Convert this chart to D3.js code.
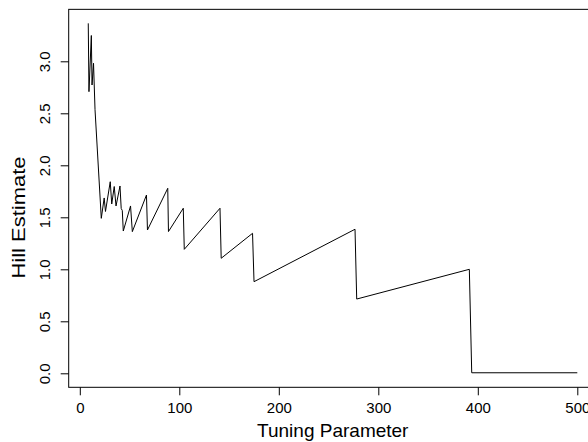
<!DOCTYPE html>
<html>
<head>
<meta charset="utf-8">
<script src="https://cdnjs.cloudflare.com/ajax/libs/d3/7.8.5/d3.min.js"></script>
<style>
  body { margin: 0; background: #fff; }
  svg text { font-family: "Liberation Sans", Arial, Helvetica, sans-serif; fill: #000; }
</style>
</head>
<body>
<div id="chart"></div>
<script>
// values
var kValues = [8.5, 9.2, 11.6, 12.3, 13.8, 15.3, 21.6, 24.5, 25.8, 30.6, 32.1, 34.6, 36.4,
               40.4, 41.6, 42.7, 43.7, 51.0, 52.8, 67.0, 68.0, 88.4, 89.1, 104.0, 105.0,
               140.9, 142.1, 173.6, 175.1, 276.6, 278.3, 391.5, 393.9, 500];
var hillValues = [3.365, 2.708, 3.248, 2.772, 2.981, 2.535, 1.490, 1.686, 1.556, 1.842, 1.628,
                  1.796, 1.609, 1.801, 1.585, 1.565, 1.368, 1.609, 1.362, 1.714, 1.378, 1.779,
                  1.363, 1.587, 1.192, 1.587, 1.106, 1.346, 0.881, 1.385, 0.714, 1.0, 0.005, 0.005];
var xTicks = [0, 100, 200, 300, 400, 500];
var yTicks = [0, 0.5, 1, 1.5, 2, 2.5, 3];
var xLabel = "Tuning Parameter";
var yLabel = "Hill Estimate";

var width = 588, height = 442;

var data = kValues.map(function(k, i) { return {k: k, h: hillValues[i]}; });

// R style 4% padding around the data range
var kExt = d3.extent(kValues), hExt = [0, d3.max(hillValues)];
var kPad = (kExt[1] - kExt[0]) * 0.04, hPad = (hExt[1] - hExt[0]) * 0.04;

var x = d3.scaleLinear().domain([0, 500]).range([79.8, 577.3]);
var y = d3.scaleLinear().domain([0, 3]).range([373.3, 61.3]);

var box = {
    left: x(kExt[0] - kPad), right: x(kExt[1] + kPad),
    top: y(hExt[1] + hPad), bottom: y(hExt[0] - hPad)
};

var svg = d3.select("#chart").append("svg")
    .attr("width", width)
    .attr("height", height);

// plot box
svg.append("rect")
    .attr("x", box.left)
    .attr("y", box.top)
    .attr("width", box.right - box.left)
    .attr("height", box.bottom - box.top)
    .attr("fill", "none")
    .attr("stroke", "#000")
    .attr("stroke-width", 1);

var valueline = d3.line()
    .x(function(d) { return x(d.k); })
    .y(function(d) { return y(d.h); });

svg.append("path")
    .datum(data)
    .attr("fill", "none")
    .attr("stroke", "#000")
    .attr("stroke-width", 1)
    .attr("stroke-linejoin", "round")
    .attr("d", valueline);

// x axis
var xAxis = svg.append("g")
    .attr("transform", "translate(0," + box.bottom + ")")
    .call(d3.axisBottom(x).tickValues(xTicks).tickSize(8).tickFormat(d3.format("d")));
xAxis.select(".domain").remove();
xAxis.selectAll("line").attr("stroke", "#000");
xAxis.selectAll("text")
    .attr("font-size", "15px")
    .attr("font-family", null)
    .attr("dy", null)
    .attr("y", 26);

// y axis
var yAxis = svg.append("g")
    .attr("transform", "translate(" + box.left + ",0)")
    .call(d3.axisLeft(y).tickValues(yTicks).tickSize(8).tickFormat(d3.format(".1f")));
yAxis.select(".domain").remove();
yAxis.selectAll("line").attr("stroke", "#000");
yAxis.selectAll("text")
    .attr("font-size", "15px")
    .attr("font-family", null)
    .attr("x", null)
    .attr("dy", null)
    .attr("text-anchor", "middle")
    .attr("transform", "translate(-19,0) rotate(-90)");

// axis titles
svg.append("text")
    .attr("x", (box.left + box.right) / 2)
    .attr("y", 437)
    .attr("text-anchor", "middle")
    .attr("font-size", "19px")
    .text(xLabel);

svg.append("text")
    .attr("transform", "translate(25,217.5) rotate(-90)")
    .attr("text-anchor", "middle")
    .attr("font-size", "19px")
    .attr("textLength", 122)
    .attr("lengthAdjust", "spacingAndGlyphs")
    .text(yLabel);
</script>
</body>
</html>
